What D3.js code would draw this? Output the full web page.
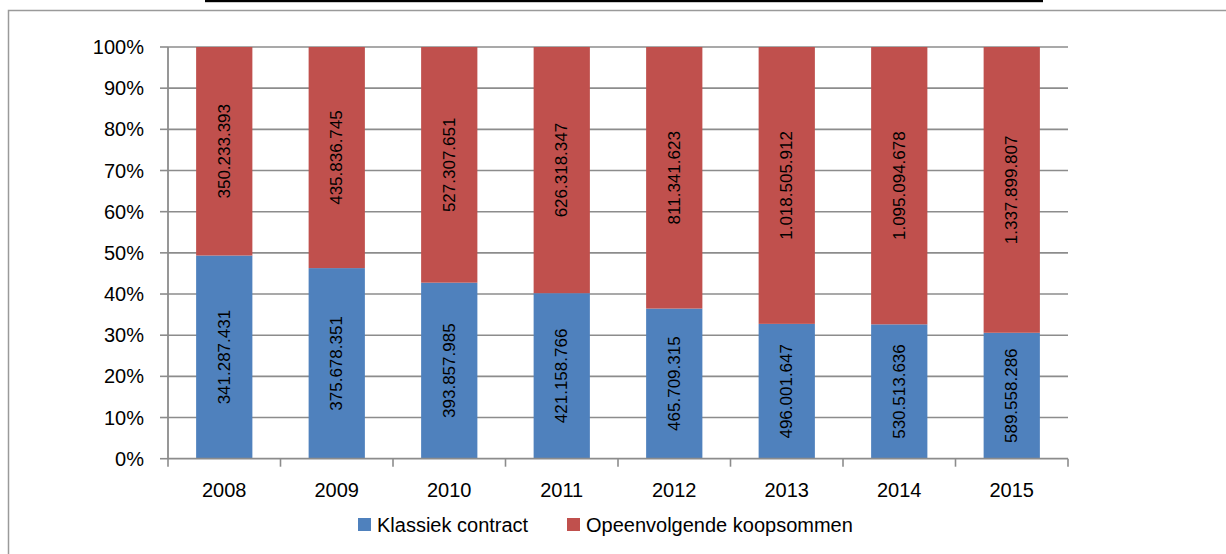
<!DOCTYPE html>
<html>
<head>
<meta charset="utf-8">
<script src="https://cdn.jsdelivr.net/npm/d3@7"></script>
<style>
  html, body { margin: 0; padding: 0; background: #fff; }
  svg { display: block; font-family: "Liberation Sans", Arial, sans-serif; }
</style>
</head>
<body>
<svg id="chart" width="1226" height="554"></svg>
<script>
const years = ["2008", "2009", "2010", "2011", "2012", "2013", "2014", "2015"];
const klassiek = [341287431, 375678351, 393857985, 421158766, 465709315, 496001647, 530513636, 589558286];
const opeenvolgend = [350233393, 435836745, 527307651, 626318347, 811341623, 1018505912, 1095094678, 1337899807];
const seriesNames = ["Klassiek contract", "Opeenvolgende koopsommen"];
const seriesColors = ["#4F81BD", "#C0504D"];
const yTicks = [0, 0.1, 0.2, 0.3, 0.4, 0.5, 0.6, 0.7, 0.8, 0.9, 1.0];

const svg = d3.select("#chart");
const W = 1226, H = 554;
const m = { left: 168, right: 1068, top: 47, bottom: 458.7 };

const fmt = v => d3.format(",")(v).replace(/,/g, ".");

// outer frame
svg.append("rect").attr("x", 8.5).attr("y", 10.5).attr("width", W + 10).attr("height", H + 10)
  .attr("fill", "none").attr("stroke", "#9a9a9a").attr("stroke-width", 1.5);
// black top bar
svg.append("rect").attr("x", 205).attr("y", 0).attr("width", 838).attr("height", 2.2).attr("fill", "#000");

const x = d3.scaleBand().domain(years).range([m.left, m.right]).paddingInner(0.5).paddingOuter(0.25);
const y = d3.scaleLinear().domain([0, 1]).range([m.bottom, m.top]);

// gridlines
svg.append("g").selectAll("line").data(yTicks.filter(t => t > 0)).join("line")
  .attr("x1", m.left).attr("x2", m.right)
  .attr("y1", d => y(d)).attr("y2", d => y(d))
  .attr("stroke", "#8c8c8c").attr("stroke-width", 1.6);

// stacked data
const data = years.map((yr, i) => {
  const tot = klassiek[i] + opeenvolgend[i];
  return { year: yr, vals: [klassiek[i], opeenvolgend[i]], fr: [klassiek[i] / tot, opeenvolgend[i] / tot] };
});

const g = svg.append("g");
data.forEach(d => {
  let acc = 0;
  d.fr.forEach((f, s) => {
    const y0 = acc, y1 = acc + f;
    acc = y1;
    g.append("rect")
      .attr("x", x(d.year)).attr("width", x.bandwidth())
      .attr("y", y(y1)).attr("height", y(y0) - y(y1))
      .attr("fill", seriesColors[s]);
    const cx = x(d.year) + x.bandwidth() / 2;
    const cy = (y(y0) + y(y1)) / 2;
    g.append("text")
      .attr("transform", `translate(${cx},${cy}) rotate(-90)`)
      .attr("text-anchor", "middle").attr("dominant-baseline", "central")
      .attr("font-size", 17).attr("fill", "#000")
      .text(fmt(d.vals[s]));
  });
});

// y axis
const yAxis = svg.append("g");
yAxis.append("line").attr("x1", m.left).attr("x2", m.left).attr("y1", m.top).attr("y2", m.bottom)
  .attr("stroke", "#8c8c8c").attr("stroke-width", 1.8);
yAxis.selectAll("line.t").data(yTicks).join("line").attr("class", "t")
  .attr("x1", m.left - 8).attr("x2", m.left).attr("y1", d => y(d)).attr("y2", d => y(d))
  .attr("stroke", "#8c8c8c").attr("stroke-width", 1.6);
yAxis.selectAll("text").data(yTicks).join("text")
  .attr("x", 144).attr("y", d => y(d)).attr("text-anchor", "end").attr("dominant-baseline", "central")
  .attr("font-size", 20).attr("fill", "#000")
  .text(d => Math.round(d * 100) + "%");

// x axis
const xAxis = svg.append("g");
xAxis.append("line").attr("x1", m.left).attr("x2", m.right).attr("y1", m.bottom).attr("y2", m.bottom)
  .attr("stroke", "#8c8c8c").attr("stroke-width", 1.8);
const step = x.step();
const bounds = d3.range(years.length + 1).map(i => m.left + i * step);
xAxis.selectAll("line.t").data(bounds).join("line").attr("class", "t")
  .attr("x1", d => d).attr("x2", d => d).attr("y1", m.bottom).attr("y2", m.bottom + 8)
  .attr("stroke", "#8c8c8c").attr("stroke-width", 1.6);
xAxis.selectAll("text").data(years).join("text")
  .attr("x", d => x(d) + x.bandwidth() / 2).attr("y", 490)
  .attr("text-anchor", "middle").attr("dominant-baseline", "central")
  .attr("font-size", 20).attr("fill", "#000").text(d => d);

// legend
const legendX = [358, 567];
const leg = svg.append("g");
seriesNames.forEach((n, i) => {
  leg.append("rect").attr("x", legendX[i]).attr("y", 518).attr("width", 13).attr("height", 13)
    .attr("fill", seriesColors[i]);
  leg.append("text").attr("x", legendX[i] + 19).attr("y", 524.5).attr("dominant-baseline", "central")
    .attr("font-size", 20).attr("fill", "#000").text(n);
});
</script>
</body>
</html>
